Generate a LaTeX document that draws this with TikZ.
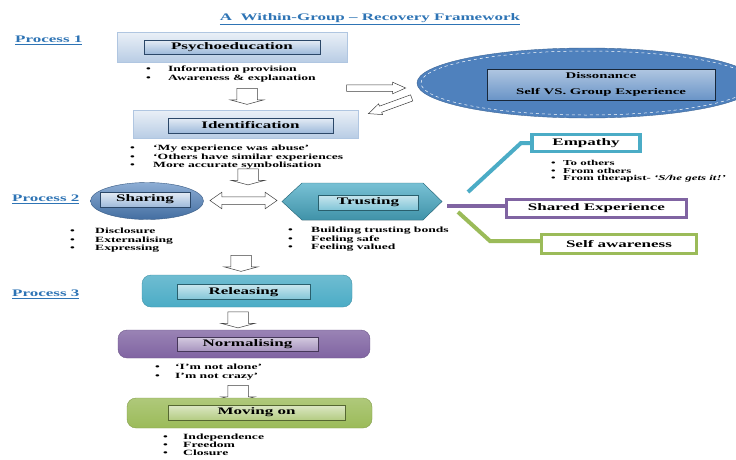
\documentclass[tikz,border=0pt]{standalone}
\usepackage{fontspec}
\setmainfont{Liberation Serif}[FakeStretch=1.7]
\usetikzlibrary{shapes.geometric,shapes.arrows}
\definecolor{blu}{HTML}{4F81BD}
\definecolor{tea}{HTML}{4BACC6}
\definecolor{pur}{HTML}{8064A2}
\definecolor{grn}{HTML}{9BBB59}
\definecolor{ttl}{HTML}{2E74B5}
\newcommand\bitem[2][22pt]{\makebox[#1][l]{\textbullet}#2}
\tikzset{
  lbl/.style={font=\fontsize{10}{11}\selectfont\bfseries},
  proc/.style={anchor=west, inner sep=0pt, text=ttl, lbl},
  inbox/.style={draw=#1!55!black, top color=#1!15!white, bottom color=#1!55!white, inner sep=0pt, lbl},
  outbox/.style={draw=blu!45, top color=blu!12!white, bottom color=blu!40!white, inner sep=0pt},
  rbox/.style={rounded corners=9pt, draw=#1!85!black, top color=#1!80!white, bottom color=#1, inner sep=0pt},
  tag/.style={draw=#1, line width=3.5pt, fill=white, inner sep=0pt, lbl},
  blist/.style={anchor=north west, align=left, inner sep=0pt, font=\fontsize{8}{8.8}\selectfont\bfseries},
  link/.style={draw=#1, line width=4pt},
  darrow/.style={single arrow, draw=black!75, fill=white, line width=0.5pt, inner xsep=0pt, inner ysep=10pt,
    single arrow head extend=6.5pt, minimum height=16pt, single arrow tip angle=150, rotate=-90},
  sarrow/.style={single arrow, draw=black!75, fill=white, line width=0.5pt, inner xsep=0pt, inner ysep=3pt,
    single arrow head extend=2.5pt, single arrow tip angle=48}
}
\begin{document}
\begin{tikzpicture}[x=1pt, y=-1pt]
\useasboundingbox[fill=white] (0,0) rectangle (736,459);

% title and process labels
\node[text=ttl, lbl] (title) at (370,19) {\underline{A\ \ Within-Group -- Recovery Framework}};
\node[proc] (p1) at (15,40) {\underline{Process 1}};
\node[proc] (p2) at (12,199) {\underline{Process 2}};
\node[proc] (p3) at (12,294) {\underline{Process 3}};

% process 1
\node[outbox, minimum width=230, minimum height=30] (psy) at (232,47) {};
\node[inbox=blu, minimum width=176, minimum height=14] (psyin) at (psy.center) {Psychoeducation};
\node[blist] (psyl) at (146,66) {\bitem{Information provision}\\ \bitem{Awareness \& explanation}};
\node[darrow] (a1) at (247,95) {};

\node[outbox, minimum width=225, minimum height=28] (idn) at (245.5,124) {};
\node[inbox=blu, minimum width=165, minimum height=15] (idnin) at (250.5,125.5) {Identification};
\node[blist] (idnl) at (130,144.5) {\bitem[23pt]{`My experience was abuse'}\\ \bitem[23pt]{`Others have similar experiences}\\ \bitem[23pt]{More accurate symbolisation}};
\node[darrow] (a2) at (248,175.5) {};

% dissonance
\node[ellipse, fill=blu, draw=blu!80!black, minimum width=340, minimum height=70] (dis) at (587,83) {};
\draw[white, dashed, line width=0.5pt] (dis.center) ellipse [x radius=166, y radius=32];
\node[inbox=blu!80!white, draw=blu!30!black, minimum width=228, minimum height=31, align=center,
  top color=blu!45!white, bottom color=blu!85!white, font=\fontsize{8.7}{9}\selectfont\bfseries] (disin) at (601,84.5)
  {Dissonance\\[7pt] Self VS. Group Experience};
\node[sarrow, minimum height=59pt] (a3) at (372.5,88) {};
\node[sarrow, minimum height=46pt, rotate=200] (a4) at (393.5,104.5) {};

% process 2
\node[ellipse, draw=blu!70!black, top color=blu!65!white, bottom color=blu!85!black, minimum width=113, minimum height=37] (shr) at (147,201) {};
\node[inbox=blu, minimum width=90, minimum height=15] (shrin) at (145,199.5) {Sharing};
\node[double arrow, draw=black!75, fill=white, line width=0.5pt, inner xsep=0pt, inner ysep=3.5pt,
  double arrow head extend=4.5pt, minimum height=67pt, double arrow tip angle=70] (a5) at (243.5,200.5) {};
\fill[top color=tea!75!white, bottom color=tea!85!black, draw=tea!70!black]
  (282,201.5) -- (302,183) -- (423,183) -- (442,201.5) -- (423,220) -- (302,220) -- cycle;
\node[inbox=tea, minimum width=100, minimum height=15, top color=tea!30!white, bottom color=tea!70!white] (tru) at (368,202.5) {Trusting};
\node[blist] (shrl) at (70,227.5) {\bitem[25pt]{Disclosure}\\ \bitem[25pt]{Externalising}\\ \bitem[25pt]{Expressing}};
\node[blist] (trul) at (288,226.5) {\bitem[23pt]{Building trusting bonds}\\ \bitem[23pt]{Feeling safe}\\ \bitem[23pt]{Feeling valued}};

% what trusting brings
\node[tag=tea, minimum width=108, minimum height=17] (emp) at (586,143) {Empathy};
\node[tag=pur, minimum width=180, minimum height=18] (shx) at (596.5,208.5) {Shared Experience};
\node[tag=grn, minimum width=155, minimum height=19] (slf) at (619,244) {Self awareness};
\node[blist, font=\fontsize{7.6}{7.6}\selectfont\bfseries] (empl) at (551,160)
  {\bitem[12pt]{To others}\\ \bitem[12pt]{From others}\\ \bitem[12pt]{From therapist- \textit{`S/he gets it!'}}};
\coordinate (e1) at (468,192);
\coordinate (e2) at (521,143);
\coordinate (s1) at (447,206);
\coordinate (g1) at (458,212);
\coordinate (g2) at (490,241);
\draw[link=tea] (e1) -- (e2) -- (emp.west);
\draw[link=pur] (s1) -- (s1 -| shx.west);
\draw[link=grn] (g1) -- (g2) -- (g2 -| slf.west);
\node[darrow] (a6) at (241,262) {};

% process 3
\node[rbox=tea, minimum width=210, minimum height=32] (rel) at (247,291) {};
\node[inbox=tea, minimum width=133, minimum height=15, top color=tea!30!white, bottom color=tea!70!white] (relin) at (243.5,292) {Releasing};
\node[darrow] (a7) at (238,318.5) {};
\node[rbox=pur, minimum width=252, minimum height=28] (nor) at (244,344) {};
\node[inbox=pur, minimum width=141, minimum height=14, top color=pur!35!white, bottom color=pur!70!white] (norin) at (247.5,344.5) {Normalising};
\node[blist] (norl) at (155,363.5) {\bitem[20pt]{`I'm not alone'}\\ \bitem[20pt]{I'm not crazy'}};
\node[darrow] (a8) at (238,392) {};
\node[rbox=grn, minimum width=245, minimum height=30] (mov) at (249.5,413) {};
\node[inbox=grn, minimum width=177, minimum height=15, top color=grn!35!white, bottom color=grn!75!white] (movin) at (256.5,412.5) {Moving on};
\node[blist, font=\fontsize{8}{8.3}\selectfont\bfseries] (movl) at (163,433.5) {\bitem[20pt]{Independence}\\ \bitem[20pt]{Freedom}\\ \bitem[20pt]{Closure}};
\end{tikzpicture}
\end{document}
